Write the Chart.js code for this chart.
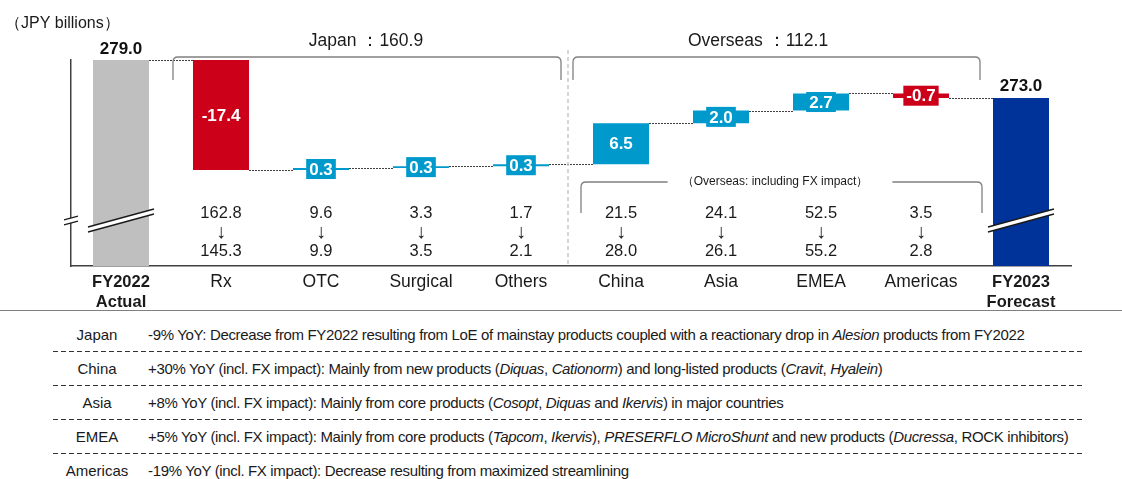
<!DOCTYPE html>
<html>
<head>
<meta charset="utf-8">
<script src="https://cdn.jsdelivr.net/npm/chart.js@4.4.0/dist/chart.umd.min.js"></script>
<style>
body{margin:0;background:#fff;font-family:"Liberation Sans",Arial,sans-serif;color:#1a1a1a;}
#wrap{position:relative;width:1122px;height:479px;overflow:hidden;}
#c{position:absolute;left:0;top:0;}
.sep{position:absolute;left:0;top:310px;width:1122px;height:0;border-top:1.5px solid #808080;}
.row{position:absolute;left:0;width:1122px;height:20px;line-height:20px;font-size:15px;white-space:nowrap;}
.row .k{position:absolute;left:52px;width:90px;text-align:center;}
.row .v{position:absolute;left:148px;letter-spacing:-0.35px;}
.dash{position:absolute;left:53px;width:1032px;height:1px;background:repeating-linear-gradient(to right,#333 0 5px,transparent 5px 8px);}
</style>
</head>
<body>
<div id="wrap">
  <canvas id="c" width="1122" height="312"></canvas>
  <div class="sep"></div>
  <div id="notes"></div>
</div>
<script>
const FONT = '"Liberation Sans", Arial, sans-serif';

// chart data (JPY billions)
const categories = [['FY2022', 'Actual'], 'Rx', 'OTC', 'Surgical', 'Others', 'China', 'Asia', 'EMEA', 'Americas', ['FY2023', 'Forecast']];
const startTotal = 279.0;
const endTotal = 273.0;
const changes = [-17.4, 0.3, 0.3, 0.3, 6.5, 2.0, 2.7, -0.7];
const fy2022Sales = [162.8, 9.6, 3.3, 1.7, 21.5, 24.1, 52.5, 3.5];
const fy2023Sales = [145.3, 9.9, 3.5, 2.1, 28.0, 26.1, 55.2, 2.8];
const japanTotal = 160.9;
const overseasTotal = 112.1;
const yMin = 246.4; // axis is broken, bars start here

const noteRegions = ['Japan', 'China', 'Asia', 'EMEA', 'Americas'];
const noteTexts = [
  '-9% YoY: Decrease from FY2022 resulting from LoE of mainstay products coupled with a reactionary drop in <i>Alesion</i> products from FY2022',
  '+30% YoY (incl. FX impact): Mainly from new products (<i>Diquas</i>, <i>Cationorm</i>) and long-listed products (<i>Cravit</i>, <i>Hyalein</i>)',
  '+8% YoY (incl. FX impact): Mainly from core products (<i>Cosopt</i>, <i>Diquas</i> and <i>Ikervis</i>) in major countries',
  '+5% YoY (incl. FX impact): Mainly from core products (<i>Tapcom</i>, <i>Ikervis</i>), <i>PRESERFLO MicroShunt</i> and new products (<i>Ducressa</i>, ROCK inhibitors)',
  '-19% YoY (incl. FX impact): Decrease resulting from maximized streamlining'
];

const GREY = '#BFBFBF', RED = '#CC0019', BLUE = '#0099CC', NAVY = '#003399';

// floating bars + running levels
const floats = [[yMin, startTotal]];
const levels = [startTotal];
let level = startTotal;
changes.forEach(d => {
  const next = Math.round((level + d) * 10) / 10;
  floats.push([Math.min(level, next), Math.max(level, next)]);
  level = next;
  levels.push(level);
});
floats.push([yMin, endTotal]);
const colors = [GREY].concat(changes.map(d => d < 0 ? RED : BLUE), [NAVY]);

function bracket(ctx, x1, x2, yTop, yBot, r) {
  ctx.beginPath();
  ctx.moveTo(x1, yBot);
  ctx.lineTo(x1, yTop + r);
  ctx.quadraticCurveTo(x1, yTop, x1 + r, yTop);
  ctx.lineTo(x2 - r, yTop);
  ctx.quadraticCurveTo(x2, yTop, x2, yTop + r);
  ctx.lineTo(x2, yBot);
  ctx.stroke();
}

function breakMark(ctx, cx, cy, half, rise, gap, lw) {
  ctx.fillStyle = '#fff';
  ctx.beginPath();
  ctx.moveTo(cx - half, cy + rise);
  ctx.lineTo(cx + half, cy - rise);
  ctx.lineTo(cx + half, cy - rise + gap);
  ctx.lineTo(cx - half, cy + rise + gap);
  ctx.closePath();
  ctx.fill();
  ctx.strokeStyle = '#1a1a1a';
  ctx.lineWidth = lw;
  [0, gap].forEach(o => {
    ctx.beginPath();
    ctx.moveTo(cx - half, cy + rise + o);
    ctx.lineTo(cx + half, cy - rise + o);
    ctx.stroke();
  });
}

const waterfallDeco = {
  id: 'waterfallDeco',
  afterDatasetsDraw(chart) {
    const {ctx, chartArea, scales: {x, y}} = chart;
    const bars = chart.getDatasetMeta(0).data;
    const half = bars[0].width / 2;
    ctx.save();

    // dotted connectors
    ctx.strokeStyle = '#404040';
    ctx.lineWidth = 1;
    ctx.setLineDash([2, 1]);
    for (let i = 0; i < levels.length; i++) {
      const py = Math.round(y.getPixelForValue(levels[i])) + 0.5;
      ctx.beginPath();
      ctx.moveTo(x.getPixelForValue(i) + half, py);
      ctx.lineTo(x.getPixelForValue(i + 1) - half, py);
      ctx.stroke();
    }
    ctx.setLineDash([]);

    // change labels
    ctx.font = 'bold 17px ' + FONT;
    ctx.textAlign = 'center';
    ctx.textBaseline = 'middle';
    changes.forEach((d, i) => {
      const b = bars[i + 1];
      const cy = (b.y + b.base) / 2;
      const txt = d.toFixed(1);
      const w = ctx.measureText(txt).width + 6;
      if (Math.abs(b.base - b.y) < 22) {
        ctx.fillStyle = colors[i + 1];
        ctx.fillRect(b.x - w / 2, cy - 10, w, 20);
      }
      ctx.fillStyle = '#fff';
      ctx.fillText(txt, b.x, cy + 1);
    });

    // totals
    ctx.fillStyle = '#111';
    ctx.fillText(startTotal.toFixed(1), x.getPixelForValue(0), y.getPixelForValue(startTotal) - 11);
    ctx.fillText(endTotal.toFixed(1), x.getPixelForValue(9), y.getPixelForValue(endTotal) - 12);

    // axis breaks
    const bY = chartArea.bottom - 48;
    breakMark(ctx, x.getPixelForValue(0), bY, 33, 9, 5, 1.3);
    breakMark(ctx, x.getPixelForValue(9), bY, 33, 9, 5, 1.3);
    breakMark(ctx, chartArea.left, bY, 7, 1.8, 5, 1.2);

    // Japan / Overseas separator
    const sepX = (x.getPixelForValue(4) + x.getPixelForValue(5)) / 2 - 3;
    ctx.strokeStyle = '#C8C8C8';
    ctx.lineWidth = 1.5;
    ctx.setLineDash([4, 3]);
    ctx.beginPath();
    ctx.moveTo(sepX, 50);
    ctx.lineTo(sepX, chartArea.bottom - 1);
    ctx.stroke();
    ctx.setLineDash([]);

    // group brackets
    ctx.strokeStyle = '#808080';
    ctx.lineWidth = 1.3;
    const jx1 = x.getPixelForValue(1) - 48, jx2 = x.getPixelForValue(4) + 40;
    const ox1 = x.getPixelForValue(5) - 48, ox2 = x.getPixelForValue(8) + 59;
    bracket(ctx, jx1, jx2, 57, 80, 5);
    bracket(ctx, ox1, ox2, 57, 80, 5);
    ctx.font = '17.5px ' + FONT;
    ctx.fillStyle = '#1a1a1a';
    ctx.fillText('Japan ：' + japanTotal.toFixed(1), 366, 41);
    ctx.fillText('Overseas ：' + overseasTotal.toFixed(1), 758, 41);

    // FX bracket
    const fx1 = x.getPixelForValue(5) - 40, fx2 = x.getPixelForValue(8) + 61;
    ctx.font = '12px ' + FONT;
    const fxTxt = '（Overseas: including FX impact）';
    const fxMid = 775;
    const fxW = ctx.measureText(fxTxt).width;
    ctx.beginPath();
    ctx.moveTo(fx1, 213); ctx.lineTo(fx1, 187);
    ctx.quadraticCurveTo(fx1, 182, fx1 + 5, 182);
    ctx.lineTo(fxMid - fxW / 2 - 14, 182);
    ctx.moveTo(fxMid + fxW / 2 + 24, 182);
    ctx.lineTo(fx2 - 5, 182);
    ctx.quadraticCurveTo(fx2, 182, fx2, 187);
    ctx.lineTo(fx2, 213);
    ctx.stroke();
    ctx.fillText(fxTxt, fxMid, 182);

    // segment sales FY2022 -> FY2023
    fy2022Sales.forEach((v, i) => {
      const cx = x.getPixelForValue(i + 1);
      ctx.font = '16.5px ' + FONT;
      ctx.fillText(v.toFixed(1), cx, 213);
      ctx.fillText(fy2023Sales[i].toFixed(1), cx, 251);
      ctx.font = '20px ' + FONT;
      ctx.fillText('↓', cx, 232);
    });

    // unit
    ctx.textAlign = 'left';
    ctx.font = '16px ' + FONT;
    ctx.fillText('（JPY billions）', 5, 24);
    ctx.restore();
  }
};

new Chart(document.getElementById('c'), {
  type: 'bar',
  data: {
    labels: categories,
    datasets: [{
      data: floats,
      backgroundColor: colors,
      barPercentage: 0.56,
      categoryPercentage: 1,
      borderWidth: 0,
      borderSkipped: false
    }]
  },
  options: {
    responsive: false,
    animation: false,
    layout: {padding: {left: 71, right: 51, top: 60, bottom: 0}},
    plugins: {legend: {display: false}, tooltip: {enabled: false}},
    scales: {
      x: {
        grid: {drawOnChartArea: false, drawTicks: false},
        border: {color: '#404040', width: 1.5},
        ticks: {
          padding: 6,
          color: '#1a1a1a',
          font: c => {
            const total = c.index === 0 || c.index === categories.length - 1;
            return {family: FONT, size: total ? 16.5 : 17.5, weight: total ? 'bold' : 'normal', lineHeight: '20px'};
          }
        },
        afterFit: s => { s.height = 46; }
      },
      y: {
        min: yMin,
        max: startTotal,
        grid: {drawOnChartArea: false, drawTicks: false},
        border: {color: '#404040', width: 1.5},
        ticks: {display: false},
        afterFit: s => { s.width = 0; }
      }
    }
  },
  plugins: [waterfallDeco]
});

// notes table
const notes = document.getElementById('notes');
noteRegions.forEach((r, i) => {
  const cy = 335 + i * 34;
  const row = document.createElement('div');
  row.className = 'row';
  row.style.top = (cy - 10) + 'px';
  row.innerHTML = '<span class="k">' + r + '</span><span class="v">' + noteTexts[i] + '</span>';
  notes.appendChild(row);
  if (i < noteRegions.length - 1) {
    const d = document.createElement('div');
    d.className = 'dash';
    d.style.top = (cy + 16) + 'px';
    notes.appendChild(d);
  }
});
</script>
</body>
</html>
